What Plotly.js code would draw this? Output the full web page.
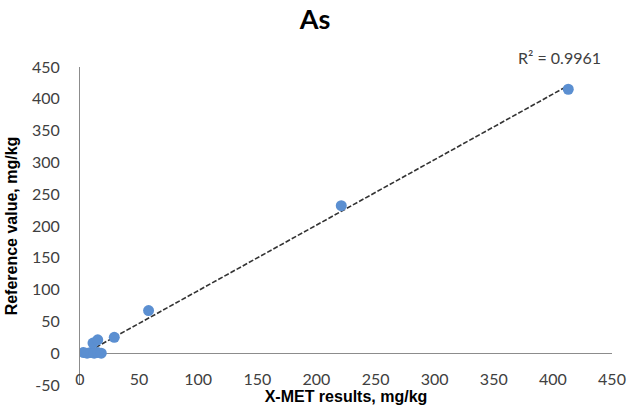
<!DOCTYPE html>
<html><head><meta charset="utf-8">
<script src="https://cdn.plot.ly/plotly-3.0.1.min.js"></script>
<style>body{margin:0;background:#fff}#chart{width:630px;height:416px}</style>
</head><body><div id="chart"></div>
<script>
// X-MET results (mg/kg) vs reference values (mg/kg) for As
const xmet = [3, 6, 9, 12, 15, 18, 11, 15, 29, 58, 221, 413];
const refValue = [1, 0, 1, 0, 1, 0, 16, 21, 25, 67, 232, 415];
const xTicks = [0, 50, 100, 150, 200, 250, 300, 350, 400, 450];
const yTicks = [-50, 0, 50, 100, 150, 200, 250, 300, 350, 400, 450];
const r2Label = 'R² = 0.9961';

// least-squares trend line computed from the data
const n = xmet.length;
const mx = xmet.reduce((a, b) => a + b, 0) / n;
const my = refValue.reduce((a, b) => a + b, 0) / n;
let sxy = 0, sxx = 0;
for (let i = 0; i < n; i++) { sxy += (xmet[i] - mx) * (refValue[i] - my); sxx += (xmet[i] - mx) ** 2; }
const slope = sxy / sxx, intercept = my - slope * mx;
const xMin = Math.min(...xmet), xMax = Math.max(...xmet);
const trendX = [xMin, xMax];
const trendY = trendX.map(v => slope * v + intercept);

const tickFont = {family: 'Lato, "Open Sans", sans-serif', size: 16, color: '#404040'};
const data = [
  {x: trendX, y: trendY, type: 'scatter', mode: 'lines',
   line: {color: '#333333', width: 1.6, dash: '5px,2px'}, hoverinfo: 'skip'},
  {x: xmet, y: refValue, type: 'scatter', mode: 'markers',
   marker: {color: '#5b8fd1', size: 11}}
];
const layout = {
  width: 630, height: 416,
  margin: {l: 80, r: 18, t: 67, b: 31},
  paper_bgcolor: '#fff', plot_bgcolor: '#fff',
  showlegend: false,
  title: {text: '<b>As</b>', x: 0.5, xanchor: 'center', y: 0.952, yanchor: 'middle',
          font: {family: 'Lato, sans-serif', size: 27, color: '#000'}},
  xaxis: {range: [0, 450], tickvals: xTicks, ticktext: xTicks.map(String),
          showgrid: false, zeroline: false, showline: false, ticks: '',
          tickfont: tickFont, ticklabelstandoff: -17,
          title: {text: '<b>X-MET results, mg/kg</b>', standoff: 2,
                  font: {family: '"Liberation Sans", Arial, sans-serif', size: 16, color: '#000'}}},
  yaxis: {range: [-50, 450], tickvals: yTicks, ticktext: yTicks.map(String),
          showgrid: false, zeroline: true, zerolinecolor: '#8c8c8c', zerolinewidth: 1,
          showline: true, linecolor: '#8c8c8c', linewidth: 1, ticks: '',
          tickfont: tickFont, ticklabelstandoff: 16,
          title: {text: '<b>Reference value, mg/kg</b>', standoff: 10,
                  font: {family: '"Liberation Sans", Arial, sans-serif', size: 16, color: '#000'}}},
  annotations: [{text: r2Label, xref: 'paper', yref: 'paper', x: 0.983, y: 1.031,
                 xanchor: 'right', yanchor: 'middle', showarrow: false,
                 font: {family: 'Lato, sans-serif', size: 16, color: '#404040'}}]
};
Plotly.newPlot('chart', data, layout, {displayModeBar: false, staticPlot: true});
</script></body></html>
